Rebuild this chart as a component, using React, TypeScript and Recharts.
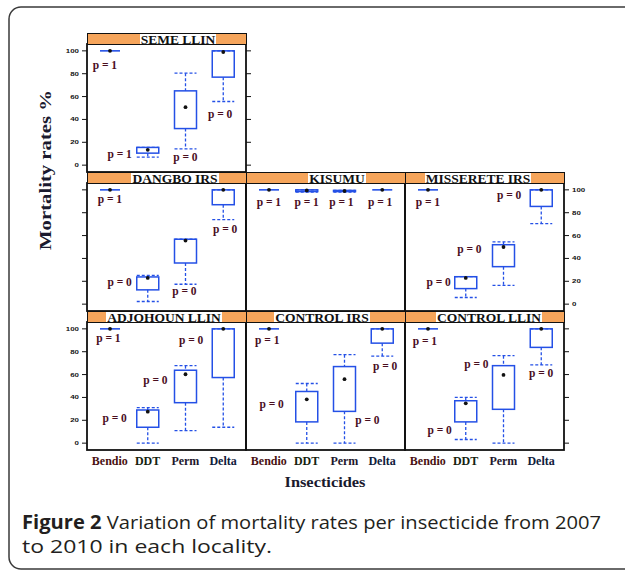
import React from 'react'
import { Bar, ComposedChart, Scatter, XAxis, YAxis } from 'recharts'

const insecticides = ['Bendio', 'DDT', 'Perm', 'Delta']
const localities = [
  'SEME LLIN',
  'DANGBO IRS',
  'KISUMU',
  'MISSERETE IRS',
  'ADJOHOUN LLIN',
  'CONTROL IRS',
  'CONTROL LLIN'
]
const yTicks = [0, 20, 40, 60, 80, 100]

// mortality % per insecticide: [min, q1, median, q3, max]
const semeLlin = [[100, 100, 100, 100, 100], [7, 10.5, 13.4, 15.5, 15.5], [14.3, 32, 50.7, 65, 80.5], [55.7, 77, 99, 100, 100]]
const dangboIrs = [[100, 100, 100, 100, 100], [2.3, 12.5, 22.9, 23.8, 25.2], [17.4, 36, 55.6, 56.8, 56.8], [74, 87, 100, 100, 100]]
const kisumu = [[100, 100, 100, 100, 100], [98, 98.5, 99.5, 100, 100], [98, 98.5, 99, 99.5, 99.5], [100, 100, 100, 100, 100]]
const missereteIrs = [[100, 100, 100, 100, 100], [5.8, 13.6, 22.9, 24, 24], [16.5, 32.8, 50, 52, 54.5], [70.4, 85.5, 100, 100, 100]]
const adjohounLlin = [[100, 100, 100, 100, 100], [0, 13.9, 27.5, 29, 31], [11, 35.4, 60.3, 63.8, 67.8], [13.9, 57.4, 100, 100, 100]]
const controlIrs = [[100, 100, 100, 100, 100], [0, 18.6, 38.3, 45.2, 52.2], [0, 27.8, 56, 67, 77.4], [76.2, 87.5, 100, 100, 100]]
const controlLlin = [[100, 100, 100, 100, 100], [3.2, 18.6, 34.8, 37.1, 40], [0, 29.6, 59.7, 67.8, 76.5], [68.4, 83.8, 100, 100, 100]]
const boxStats = [semeLlin, dangboIrs, kisumu, missereteIrs, adjohounLlin, controlIrs, controlLlin]

const pValues = [
  [1, 1, 0, 0],
  [1, 0, 0, 0],
  [1, 1, 1, 1],
  [1, 0, 0, 0],
  [1, 0, 0, 0],
  [1, 0, 0, 0],
  [1, 0, 0, 0]
]

// where each p label sits: [shift from box centre in px, height in %]
const pLabelSpots = [
  [[-5, 87.5], [-28, 9.4], [0, 6.8], [-3, 44.4]],
  [[0, 91.3], [-28, 19], [-1, 11.2], [2, 65.7]],
  [[0, 89], [0, 89], [-3, 89], [-2, 89]],
  [[0, 89], [-27, 19], [-34, 48.2], [-32, 94.8]],
  [[-1.5, 91.7], [-33, 21.7], [-30, 55.2], [-32, 90.2]],
  [[-1.6, 90.2], [-35, 33.6], [23, 19.6], [3, 66.8]],
  [[-3, 88.7], [-26, 11.5], [-27, 68.6], [0, 60.7]]
]

const panelLayout = [
  { col: 0, row: 0, left: 'labels', right: 'ticks', xLabels: false, shift: 11 },
  { col: 0, row: 1, left: 'ticks', right: 'none', xLabels: false, shift: 8 },
  { col: 1, row: 1, left: 'none', right: 'none', xLabels: false, shift: 11 },
  { col: 2, row: 1, left: 'none', right: 'labels', xLabels: false, shift: -7 },
  { col: 0, row: 2, left: 'labels', right: 'none', xLabels: true, shift: -3 },
  { col: 1, row: 2, left: 'none', right: 'none', xLabels: true, shift: -4 },
  { col: 2, row: 2, left: 'none', right: 'ticks', xLabels: true, shift: 4 }
]

const BLUE = '#2450e6'
const ORANGE = '#f6a55b'
const PCOL = '#4a0f1f'
const tickColors = ['#4a1212', '#15220f', '#22182e', '#10203c']
const SERIF = "'Liberation Serif', 'DejaVu Serif', serif"

const PANEL_W = 159
const PANEL_H = 128
const AX = 40
const colLeft = (c: number) => 87 + c * PANEL_W
const plotTop = (r: number) => 44 + r * 139

const BoxShape = (props: any) => {
  const { x, y, width, height, payload } = props
  const { min, q1, med, q3, max } = payload
  const top = Math.min(y, y + height)
  const bottom = Math.max(y, y + height)
  const span = max - min
  const at = (v: number) => (span === 0 ? top : top + ((max - v) / span) * (bottom - top))
  const cx = x + width / 2
  if (span === 0) {
    return (
      <g>
        <line x1={x + 1} x2={x + width - 1} y1={top} y2={top} stroke={BLUE} strokeWidth={1.6} />
        <circle cx={cx} cy={top} r={1.9} fill="#111" />
      </g>
    )
  }
  const dash = { stroke: BLUE, strokeWidth: 1.3, strokeDasharray: '3 2' }
  return (
    <g>
      <line x1={cx} x2={cx} y1={at(max)} y2={at(q3)} {...dash} />
      <line x1={cx} x2={cx} y1={at(q1)} y2={at(min)} {...dash} />
      <line x1={x} x2={x + width} y1={at(max)} y2={at(max)} {...dash} />
      <line x1={x} x2={x + width} y1={at(min)} y2={at(min)} {...dash} />
      <rect x={x} y={at(q3)} width={width} height={Math.max(at(q1) - at(q3), 0.5)} fill="none" stroke={BLUE} strokeWidth={1.5} />
      <circle cx={cx} cy={at(med)} r={1.9} fill="#111" />
    </g>
  )
}

const PLabel = (props: any) => {
  const { cx, cy, payload } = props
  return (
    <text x={cx + payload.labelDx} y={cy} dy={3.5} textAnchor="middle" fontFamily={SERIF} fontWeight={700} fontSize={11.5} fill={PCOL}>
      {`p = ${payload.p}`}
    </text>
  )
}

const YTick = (props: any) => {
  const { x, y, payload, textAnchor, show } = props
  if (!show) return <g />
  const s = String(payload.value)
  return (
    <text x={x} y={y} dy={2} textAnchor={textAnchor} fontFamily="'Liberation Sans', sans-serif" fontWeight={700} fontSize={5.5} fill="#111" textLength={s.length * 4.4} lengthAdjust="spacingAndGlyphs">
      {s}
    </text>
  )
}

const XTick = (props: any) => {
  const { x, y, payload, index } = props
  return (
    <text x={x} y={y} dy={15} textAnchor="middle" fontFamily={SERIF} fontWeight={700} fontSize={12} fill={tickColors[index % 4]}>
      {payload.value}
    </text>
  )
}

const Panel: React.FC<{ idx: number }> = ({ idx }) => {
  const lay = panelLayout[idx]
  const data = insecticides.map((name, i) => {
    const [min, q1, med, q3, max] = boxStats[idx][i]
    return {
      name,
      min,
      q1,
      med,
      q3,
      max,
      p: pValues[idx][i],
      labelDx: pLabelSpots[idx][i][0],
      labelV: pLabelSpots[idx][i][1]
    }
  })
  return (
    <div style={{ position: 'absolute', left: colLeft(lay.col) - AX, top: plotTop(lay.row) }}>
      <ComposedChart width={PANEL_W + 2 * AX} height={PANEL_H + 30} data={data} margin={{ top: 0, right: 0, bottom: 0, left: 0 }}>
        <XAxis
          dataKey="name"
          type="category"
          height={30}
          padding={{ left: 4, right: 4 }}
          axisLine={false}
          tickLine={false}
          tickSize={0}
          tickMargin={0}
          interval={0}
          tick={lay.xLabels ? (p: any) => <XTick {...p} /> : false}
        />
        <YAxis
          yAxisId="l"
          orientation="left"
          width={AX}
          type="number"
          domain={[-6, 106]}
          allowDataOverflow
          ticks={yTicks}
          interval={0}
          axisLine={false}
          tickLine={lay.left !== 'none' ? { stroke: '#111', strokeWidth: 1 } : false}
          tickSize={5}
          tickMargin={3}
          tick={(p: any) => <YTick {...p} show={lay.left === 'labels'} />}
        />
        <YAxis
          yAxisId="r"
          orientation="right"
          width={AX}
          type="number"
          domain={[-6, 106]}
          allowDataOverflow
          ticks={yTicks}
          interval={0}
          axisLine={false}
          tickLine={lay.right !== 'none' ? { stroke: '#111', strokeWidth: 1 } : false}
          tickSize={5}
          tickMargin={3}
          tick={(p: any) => <YTick {...p} show={lay.right === 'labels'} />}
        />
        <Bar yAxisId="l" dataKey={(d: any) => [d.min, d.max]} barSize={22} shape={BoxShape} isAnimationActive={false} />
        <Scatter yAxisId="r" dataKey="labelV" shape={PLabel} isAnimationActive={false} />
      </ComposedChart>
    </div>
  )
}

const Strip: React.FC<{ idx: number }> = ({ idx }) => {
  const lay = panelLayout[idx]
  return (
    <div
      style={{
        position: 'absolute',
        left: colLeft(lay.col),
        top: plotTop(lay.row) - 11,
        width: PANEL_W + 1,
        height: 12,
        boxSizing: 'border-box',
        border: '1px solid #111',
        background: ORANGE,
        display: 'flex',
        justifyContent: 'center',
        alignItems: 'center'
      }}
    >
      <span
        style={{
          display: 'inline-block',
          height: 10,
          lineHeight: '11px',
          background: '#fff',
          padding: '0 1px',
          fontFamily: SERIF,
          fontWeight: 700,
          fontSize: 13.5,
          color: '#111',
          whiteSpace: 'nowrap',
          transform: `translateX(${lay.shift}px)`
        }}
      >
        {localities[idx]}
      </span>
    </div>
  )
}

const App: React.FC = () => {
  return (
    <div style={{ position: 'absolute', left: 0, top: 0, width: 625, height: 572, background: '#fff', overflow: 'hidden' }}>
      <svg width={625} height={572} style={{ position: 'absolute', left: 0, top: 0 }}>
        <rect x={9} y={7} width={640} height={562} rx={12} fill="none" stroke="#3a3a3a" strokeWidth={1.5} />
        {panelLayout.map((lay, i) => (
          <rect key={i} x={colLeft(lay.col)} y={plotTop(lay.row)} width={PANEL_W} height={PANEL_H} fill="none" stroke="#111" strokeWidth={1.8} />
        ))}
        <text
          x={50.7}
          y={170}
          transform="rotate(-90, 50.7, 170)"
          textAnchor="middle"
          fontFamily={SERIF}
          fontWeight={700}
          fontSize={16}
          fill="#1a1a2e"
          textLength={160}
          lengthAdjust="spacingAndGlyphs"
        >
          Mortality rates %
        </text>
        <text x={325} y={487} textAnchor="middle" fontFamily={SERIF} fontWeight={700} fontSize={14} fill="#1a1a2e" textLength={81} lengthAdjust="spacingAndGlyphs">
          Insecticides
        </text>
        <text x={22} y={529} fontFamily="'Open Sans', sans-serif" fontSize={19} fill="#231f20" textLength={579} lengthAdjust="spacingAndGlyphs">
          <tspan fontWeight={700}>Figure 2</tspan> Variation of mortality rates per insecticide from 2007
        </text>
        <text x={22} y={553} fontFamily="'Open Sans', sans-serif" fontSize={19} fill="#231f20" textLength={250} lengthAdjust="spacingAndGlyphs">
          to 2010 in each locality.
        </text>
      </svg>
      {panelLayout.map((_, i) => (
        <Panel key={i} idx={i} />
      ))}
      {panelLayout.map((_, i) => (
        <Strip key={`s${i}`} idx={i} />
      ))}
    </div>
  )
}

export default App
